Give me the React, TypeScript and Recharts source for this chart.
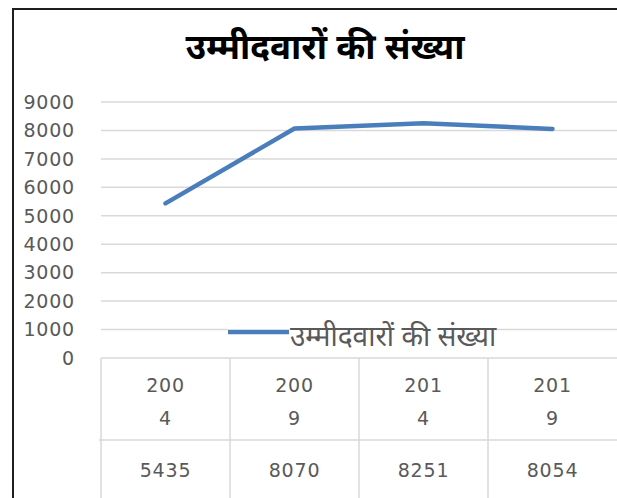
import { LineChart, Line, XAxis, YAxis, CartesianGrid, Legend } from "recharts";

const years = ["2004", "2009", "2014", "2019"];
const candidates = [5435, 8070, 8251, 8054];
const yTicks = [0, 1000, 2000, 3000, 4000, 5000, 6000, 7000, 8000, 9000];
const chartTitle = "उम्मीदवारों की संख्या";
const seriesName = "उम्मीदवारों की संख्या";

const data = years.map((year, i) => ({ year, candidates: candidates[i] }));

const LINE_COLOR = "#4a7ebb";
const TEXT_COLOR = "#595959";
const GRID_COLOR = "#d9d9d9";
const NUM_FONT = "'DejaVu Sans', 'Noto Sans', sans-serif";
const HALF_CELL = 64.5;

function TableTick(props: any) {
  const { x, y, payload, index } = props;
  const year = String(payload.value);
  const i = typeof index === "number" ? index : payload.index;
  return (
    <g>
      <line x1={x - HALF_CELL} y1={y} x2={x - HALF_CELL} y2={y + 145} stroke={GRID_COLOR} strokeWidth={1.5} />
      <line x1={x - HALF_CELL - (i === 0 ? 2 : 0)} y1={y + 82} x2={x + HALF_CELL} y2={y + 82} stroke={GRID_COLOR} strokeWidth={1.5} />
      <text x={x} y={y + 34} textAnchor="middle" fill={TEXT_COLOR} fontSize={19} fontFamily={NUM_FONT} letterSpacing={0.8}>
        {year.slice(0, 3)}
      </text>
      <text x={x} y={y + 67} textAnchor="middle" fill={TEXT_COLOR} fontSize={19} fontFamily={NUM_FONT} letterSpacing={0.8}>
        {year.slice(3)}
      </text>
      <text x={x} y={y + 119} textAnchor="middle" fill={TEXT_COLOR} fontSize={19} fontFamily={NUM_FONT} letterSpacing={0.8}>
        {candidates[i]}
      </text>
    </g>
  );
}

function LegendContent() {
  return (
    <div style={{ display: "flex", alignItems: "center", background: "#fff", height: 30 }}>
      <svg width={62} height={30}>
        <line x1={0} y1={14} x2={61} y2={14} stroke={LINE_COLOR} strokeWidth={4.5} />
      </svg>
      <span style={{ color: TEXT_COLOR, fontSize: 28, fontFamily: "'Noto Sans', sans-serif", lineHeight: "30px", marginTop: 4, whiteSpace: "nowrap" }}>
        {seriesName}
      </span>
    </div>
  );
}

export default function App() {
  return (
    <div style={{ position: "absolute", left: 0, top: 0, width: 617, height: 498, background: "#fff", overflow: "hidden" }}>
      <div
        style={{
          position: "absolute",
          left: 12,
          top: 8,
          width: 620,
          height: 500,
          borderLeft: "2px solid #1e1e1e",
          borderTop: "2px solid #1e1e1e",
        }}
      />
      <div
        style={{
          position: "absolute",
          left: 0,
          top: 22,
          width: 650,
          textAlign: "center",
          fontSize: 35,
          fontWeight: "bold",
          color: "#000",
          fontFamily: "'Noto Sans', sans-serif",
          whiteSpace: "nowrap",
        }}
      >
        {chartTitle}
      </div>
      <div style={{ position: "absolute", left: 0, top: 0 }}>
        <LineChart width={617} height={498} data={data} margin={{ top: 102, right: 0, left: 0, bottom: 0 }}>
          <CartesianGrid vertical={false} stroke={GRID_COLOR} strokeWidth={1.5} />
          <XAxis
            dataKey="year"
            scale="band"
            height={140}
            axisLine={false}
            tickLine={false}
            tickSize={0}
            tickMargin={0}
            interval={0}
            tick={<TableTick />}
          />
          <YAxis
            domain={[0, 9000]}
            ticks={yTicks}
            width={101}
            axisLine={false}
            tickLine={false}
            tickSize={0}
            tickMargin={26}
            tick={{ fill: TEXT_COLOR, fontSize: 19, fontFamily: NUM_FONT, letterSpacing: 0.8 }}
            interval={0}
          />
          <Legend
            layout="horizontal"
            verticalAlign="middle"
            align="center"
            content={<LegendContent />}
            wrapperStyle={{ position: "absolute", left: 228, top: 318, width: "auto" }}
          />
          <Line
            type="linear"
            dataKey="candidates"
            name={seriesName}
            stroke={LINE_COLOR}
            strokeWidth={4.5}
            strokeLinecap="round"
            strokeLinejoin="round"
            dot={false}
            isAnimationActive={false}
          />
        </LineChart>
      </div>
    </div>
  );
}
